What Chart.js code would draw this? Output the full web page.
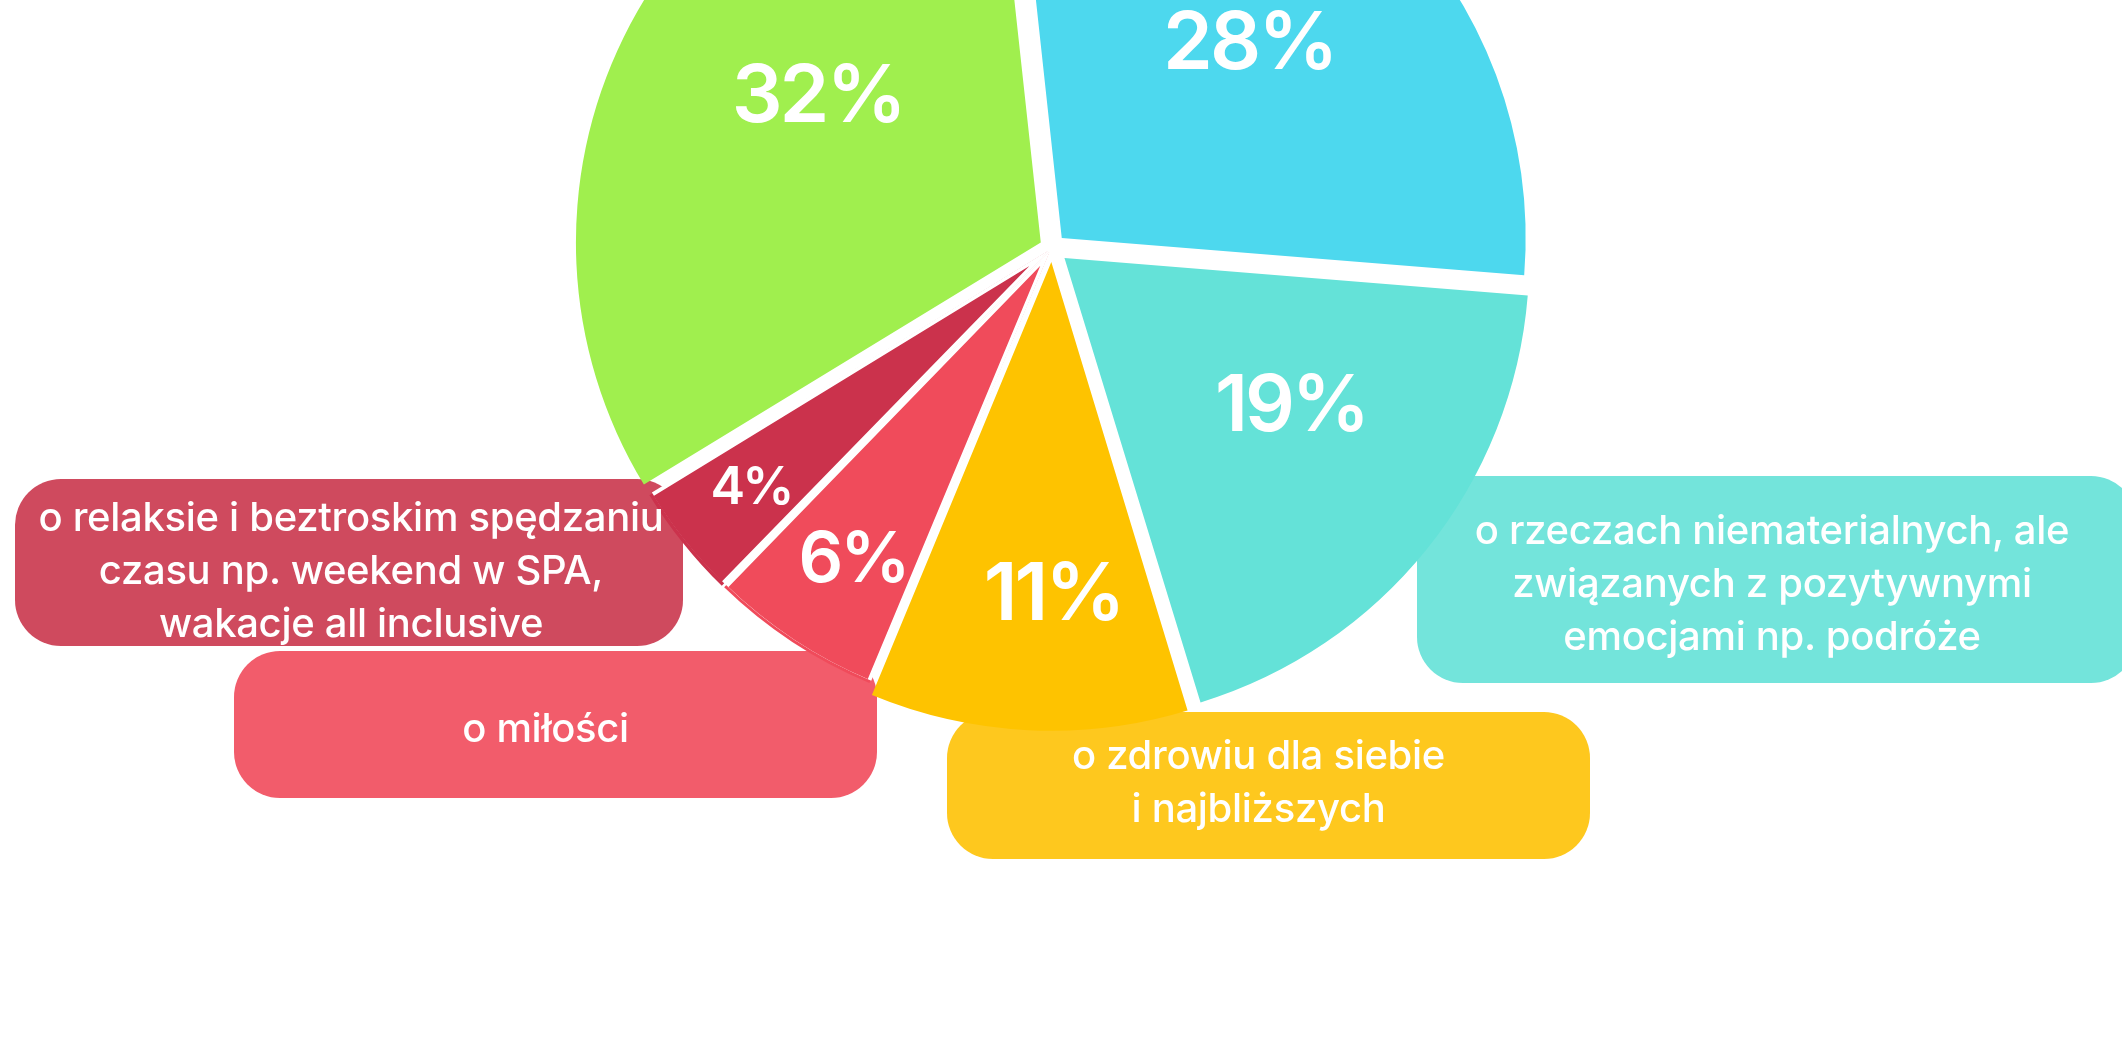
<!DOCTYPE html>
<html lang="pl">
<head>
<meta charset="utf-8">
<script src="https://cdn.jsdelivr.net/npm/chart.js@4/dist/chart.umd.min.js"></script>
<style>
  html, body { margin: 0; padding: 0; background: #fff; overflow: hidden; }
  body { width: 2122px; height: 1042px; position: relative; font-family: 'Inter', 'Noto Sans', sans-serif; }
  #pie { position: absolute; left: 552px; top: -252px; z-index: 1; }
  .box { position: absolute; border-radius: 46px; z-index: 0; }
  .txt {
    position: absolute; z-index: 2; color: #fff; font-size: 40px; font-weight: 500;
    line-height: 53px; text-align: center; display: flex; align-items: center; justify-content: center;
    letter-spacing: -0.3px; white-space: nowrap;
  }
</style>
</head>
<body>
<canvas id="pie" width="1000" height="1000"></canvas>
<div id="boxes"></div>
<script>
// slices clockwise, starting just left of 12 o'clock
const categories = [
  'o rzeczach niematerialnych, ale związanych z pozytywnymi emocjami np. podróże',
  'o zdrowiu dla siebie i najbliższych',
  'o miłości',
  'o relaksie i beztroskim spędzaniu czasu np. weekend w SPA, wakacje all inclusive',
  'o relaksie',
  'inne',
];
const shares = [28, 19, 11, 6, 4, 32];
const sliceColors = ['#4DD8EE', '#64E2D8', '#FEC300', '#F04B5B', '#CB324C', '#A0EF4E'];
const pctLabels = ['28%', '19%', '11%', '6%', '4%', '32%'];

// how far each slice is pulled out (Chart.js moves an arc by offset/4);
// the two thin slices barely move and get a white inner edge instead
const sliceOffsets = [56, 64, 56, 20, 20, 50];
const sliceBorders = [0, 0, 0, 3, 3, 0];

// label placement inside slices (fraction of radius, angle nudge in degrees, font size)
const labelRadius = [0.61, 0.62, 0.75, 0.80, 0.83, 0.60];
const labelNudge = [0, -5, -3, -1, 0, 6.5];
const labelSize = [80, 78, 80, 70, 52, 80];

// callout boxes: text lines, colours, placement
const calloutLines = [
  ['o relaksie i beztroskim spędzaniu', 'czasu np. weekend w SPA,', 'wakacje all inclusive'],
  ['o miłości'],
  ['o zdrowiu dla siebie', 'i najbliższych'],
  ['o rzeczach niematerialnych, ale', 'związanych z pozytywnymi', 'emocjami np. podróże'],
];
const calloutColors = ['#CF4A5E', '#F25C6B', '#FEC81E', '#73E4DB'];
const calloutRects = [
  { x: 15, y: 479, w: 668, h: 167, tx: 2, ty: 7 },
  { x: 234, y: 651, w: 643, h: 147, tx: -10, ty: 3 },
  { x: 947, y: 712, w: 643, h: 147, tx: -10, ty: -5 },
  { x: 1417, y: 476, w: 720, h: 207, tx: -5, ty: 3 },
];

const boxesEl = document.getElementById('boxes');
calloutLines.forEach((lines, i) => {
  const r = calloutRects[i];
  const box = document.createElement('div');
  box.className = 'box';
  Object.assign(box.style, { left: r.x + 'px', top: r.y + 'px', width: r.w + 'px', height: r.h + 'px', background: calloutColors[i] });
  boxesEl.appendChild(box);
  const txt = document.createElement('div');
  txt.className = 'txt';
  Object.assign(txt.style, { left: (r.x + r.tx) + 'px', top: (r.y + r.ty) + 'px', width: r.w + 'px', height: r.h + 'px' });
  txt.innerHTML = lines.join('<br>');
  boxesEl.appendChild(txt);
});

const sliceLabels = {
  id: 'sliceLabels',
  afterDatasetsDraw(chart) {
    const { ctx } = chart;
    const meta = chart.getDatasetMeta(0);
    ctx.save();
    ctx.fillStyle = '#fff';
    ctx.textAlign = 'center';
    ctx.textBaseline = 'middle';
    ctx.letterSpacing = '-3px';
    meta.data.forEach((arc, i) => {
      const { x, y, startAngle, endAngle, outerRadius } = arc.getProps(['x', 'y', 'startAngle', 'endAngle', 'outerRadius'], true);
      const mid = (startAngle + endAngle) / 2 + labelNudge[i] * Math.PI / 180;
      const dist = outerRadius * labelRadius[i];
      ctx.font = '600 ' + labelSize[i] + 'px Inter, "Noto Sans", sans-serif';
      ctx.fillText(pctLabels[i], x + Math.cos(mid) * dist, y + Math.sin(mid) * dist);
    });
    ctx.restore();
  },
};

new Chart(document.getElementById('pie').getContext('2d'), {
  type: 'pie',
  data: {
    labels: categories,
    datasets: [{
      data: shares,
      backgroundColor: sliceColors,
      borderColor: '#ffffff',
      borderWidth: sliceBorders,
      borderAlign: 'inner',
      offset: sliceOffsets,
    }],
  },
  options: {
    responsive: false,
    devicePixelRatio: 1,
    animation: false,
    rotation: -6.2,
    layout: { padding: 4 },
    plugins: { legend: { display: false }, tooltip: { enabled: false } },
  },
  plugins: [sliceLabels],
});
</script>
</body>
</html>
